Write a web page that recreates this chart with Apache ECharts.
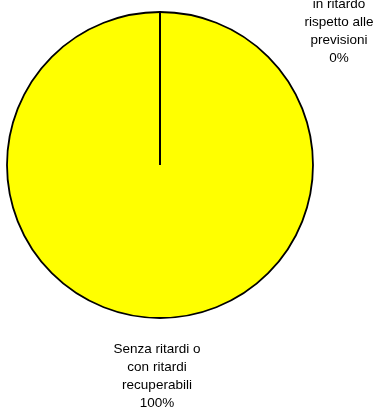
<!DOCTYPE html>
<html>
<head>
<meta charset="utf-8">
<script src="https://cdn.jsdelivr.net/npm/echarts@6/dist/echarts.min.js"></script>
<style>html,body{margin:0;padding:0;background:#fff;}#c{width:381px;height:409px;}</style>
</head>
<body>
<div id="c"></div>
<script>
var categories = ['in ritardo\nrispetto alle\nprevisioni', 'Senza ritardi o\ncon ritardi\nrecuperabili'];
var values = [0, 100];

var total = values.reduce(function (a, b) { return a + b; }, 0);
// slice boundary angles (percent of full turn) derived from the values
var boundaries = [];
var acc = 0;
values.forEach(function (v) { boundaries.push(acc / total * 100); acc += v; });
var zeroBoundaries = [];
values.forEach(function (v, i) { if (v === 0) zeroBoundaries.push(boundaries[i]); });

var chart = echarts.init(document.getElementById('c'), null, {renderer: 'canvas'});
var labelPos = [[339, 31], [157, 376]];
var lineSeries = zeroBoundaries.map(function (a) {
  return {
    type: 'line',
    coordinateSystem: 'polar',
    data: [[0, a], [1, a]],
    symbol: 'none',
    silent: true,
    z: 5,
    lineStyle: {color: '#000000', width: 2}
  };
});
chart.setOption({
  backgroundColor: '#ffffff',
  animation: false,
  polar: {center: [160, 165], radius: 153},
  angleAxis: {type: 'value', min: 0, max: 100, startAngle: 90, clockwise: true, show: false},
  radiusAxis: {type: 'value', min: 0, max: 1, show: false},
  series: [{
    type: 'pie',
    center: [160, 165],
    radius: 153,
    startAngle: 90,
    clockwise: true,
    stillShowZeroSum: true,
    avoidLabelOverlap: false,
    z: 2,
    itemStyle: {color: '#ffff00', borderColor: '#000000', borderWidth: 1.8},
    label: {
      show: true,
      position: 'outside',
      color: '#000000',
      fontFamily: 'Liberation Sans, Arial, sans-serif',
      fontSize: 13.5,
      lineHeight: 18,
      align: 'center',
      formatter: function (p) { return p.name + '\n' + Math.round(p.percent) + '%'; }
    },
    labelLine: {show: false},
    labelLayout: function (p) {
      var pos = labelPos[p.dataIndex];
      return {x: pos[0], y: pos[1], align: 'center', verticalAlign: 'middle'};
    },
    emphasis: {disabled: true},
    data: categories.map(function (c, i) { return {name: c, value: values[i]}; })
  }].concat(lineSeries)
});
</script>
</body>
</html>
